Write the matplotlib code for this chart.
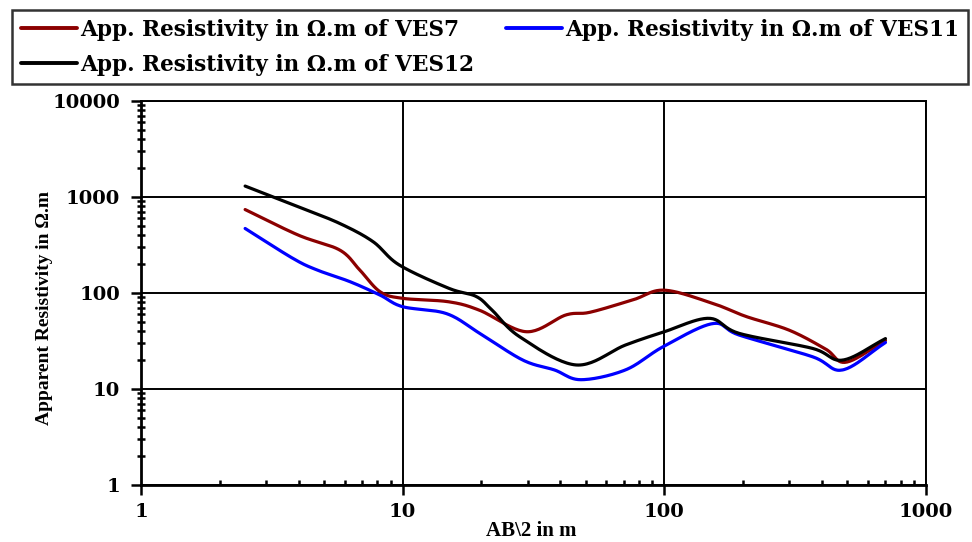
import numpy as np
import matplotlib
matplotlib.use("Agg")
import matplotlib.pyplot as plt
from matplotlib.ticker import LogLocator, FixedLocator, NullFormatter

# AB/2 spacings (m) and apparent resistivity (ohm.m) for each sounding
ab2_ves7 = [2.5, 4.0, 5.75, 6.85, 8.2, 10, 15, 19.7, 29.7, 42, 52, 76, 100, 153, 205, 300, 414, 494, 700]
rho_ves7 = [740, 400, 280, 174, 103, 88, 81, 66, 39.5, 59, 63, 85, 107, 78, 57, 41, 26, 19, 32]

ab2_ves11 = [2.5, 3.8, 4.7, 6.3, 8.2, 10, 14.7, 19.7, 28.8, 38, 48, 71, 99, 153, 193, 368, 480, 700]
rho_ves11 = [470, 230, 174, 131, 95, 72, 61, 38, 20, 15.8, 12.5, 15.8, 27.6, 48, 36.5, 21.7, 15.8, 30.5]

ab2_ves12 = [2.5, 4.0, 5.75, 7.7, 9.7, 15, 19.1, 22, 28, 46, 71, 100, 148, 193, 368, 480, 700]
rho_ves12 = [1300, 790, 530, 343, 196, 112, 92, 66, 35, 17.8, 28.7, 39.5, 54.5, 38, 26.5, 20, 33.5]

series = [
    ("App. Resistivity in \u03a9.m of VES7", ab2_ves7, rho_ves7, "#8b0000"),
    ("App. Resistivity in \u03a9.m of VES11", ab2_ves11, rho_ves11, "#0000ff"),
    ("App. Resistivity in \u03a9.m of VES12", ab2_ves12, rho_ves12, "#000000"),
]


def smooth_log(x, y, n=24):
    """Catmull-Rom smoothing in log-log space, like a smoothed line chart."""
    lx = np.log10(np.asarray(x, float))
    ly = np.log10(np.asarray(y, float))
    px = np.concatenate([[2 * lx[0] - lx[1]], lx, [2 * lx[-1] - lx[-2]]])
    py = np.concatenate([[2 * ly[0] - ly[1]], ly, [2 * ly[-1] - ly[-2]]])
    ox, oy = [], []
    t = np.linspace(0, 1, n, endpoint=False)
    for i in range(1, len(px) - 2):
        for arr, out in ((px, ox), (py, oy)):
            p0, p1, p2, p3 = arr[i - 1], arr[i], arr[i + 1], arr[i + 2]
            out.extend(0.5 * ((2 * p1) + (-p0 + p2) * t
                              + (2 * p0 - 5 * p1 + 4 * p2 - p3) * t ** 2
                              + (-p0 + 3 * p1 - 3 * p2 + p3) * t ** 3))
    ox.append(lx[-1])
    oy.append(ly[-1])
    return 10 ** np.array(ox), 10 ** np.array(oy)


WIDE = ["DejaVu Serif"]
NARROW = ["Liberation Serif", "DejaVu Serif"]
plt.rcParams["font.family"] = WIDE
plt.rcParams["font.weight"] = "bold"

fig = plt.figure(figsize=(9.72, 5.42), dpi=100)
ax = fig.add_axes([141 / 972, 57 / 542, 785 / 972, 384 / 542])

handles = []
for label, x, y, c in series:
    sx, sy = smooth_log(x, y)
    h, = ax.plot(sx, sy, color=c, lw=2.3, label=label, solid_capstyle="round")
    handles.append(h)

ax.set_xscale("log")
ax.set_yscale("log")
ax.set_xlim(1, 1000)
ax.set_ylim(1, 10000)

ax.xaxis.set_major_locator(FixedLocator([1, 10, 100, 1000]))
ax.yaxis.set_major_locator(FixedLocator([1, 10, 100, 1000, 10000]))
ax.set_xticklabels(["1", "10", "100", "1000"])
ax.set_yticklabels(["1", "10", "100", "1000", "10000"])
ax.xaxis.set_minor_locator(LogLocator(base=10, subs=np.arange(2, 10), numticks=20))
ax.yaxis.set_minor_locator(LogLocator(base=10, subs=np.arange(2, 10), numticks=20))
ax.xaxis.set_minor_formatter(NullFormatter())
ax.yaxis.set_minor_formatter(NullFormatter())

ax.tick_params(axis="both", which="major", labelsize=14, width=1.8, length=7, direction="out")
ax.tick_params(axis="x", which="minor", direction="in", length=3.5, width=1.8)
ax.tick_params(axis="y", which="minor", direction="inout", length=6, width=1.8)
ax.tick_params(axis="x", which="major", pad=6)
ax.tick_params(axis="y", which="major", pad=8)
for lab in ax.get_xticklabels() + ax.get_yticklabels():
    lab.set_fontweight("bold")

ax.grid(True, which="major", color="black", lw=1.4)
for s in ax.spines.values():
    s.set_linewidth(1.4)
ax.spines["left"].set_linewidth(2)
ax.spines["bottom"].set_linewidth(2)

ax.set_xlabel("AB\\2 in m", fontsize=15, fontweight="bold", family=NARROW)
ax.set_ylabel("Apparent Resistivity in \u03a9.m", fontsize=14, fontweight="bold", family=NARROW)
ax.xaxis.set_label_coords(0.497, -0.095)
ax.yaxis.set_label_coords(-0.112, 0.46)

# legend filled column by column: VES7 / VES12 in the first column, VES11 in the second
order = [handles[0], handles[2], handles[1]]
leg = fig.legend(handles=order, loc="upper left", ncol=2, mode="expand",
                 bbox_to_anchor=(12 / 972, 1 - 83 / 542, 956 / 972, 73 / 542),
                 frameon=True, fancybox=False, edgecolor="black",
                 handlelength=2.6, handletextpad=0.15, columnspacing=0.6,
                 borderpad=0.4, borderaxespad=0.0, labelspacing=0.6,
                 prop={"weight": "bold", "size": 15.6, "family": WIDE})
leg.get_frame().set_linewidth(1.8)
for lh in leg.get_lines():
    lh.set_linewidth(2.8)

fig.savefig("out.png", dpi=100)
